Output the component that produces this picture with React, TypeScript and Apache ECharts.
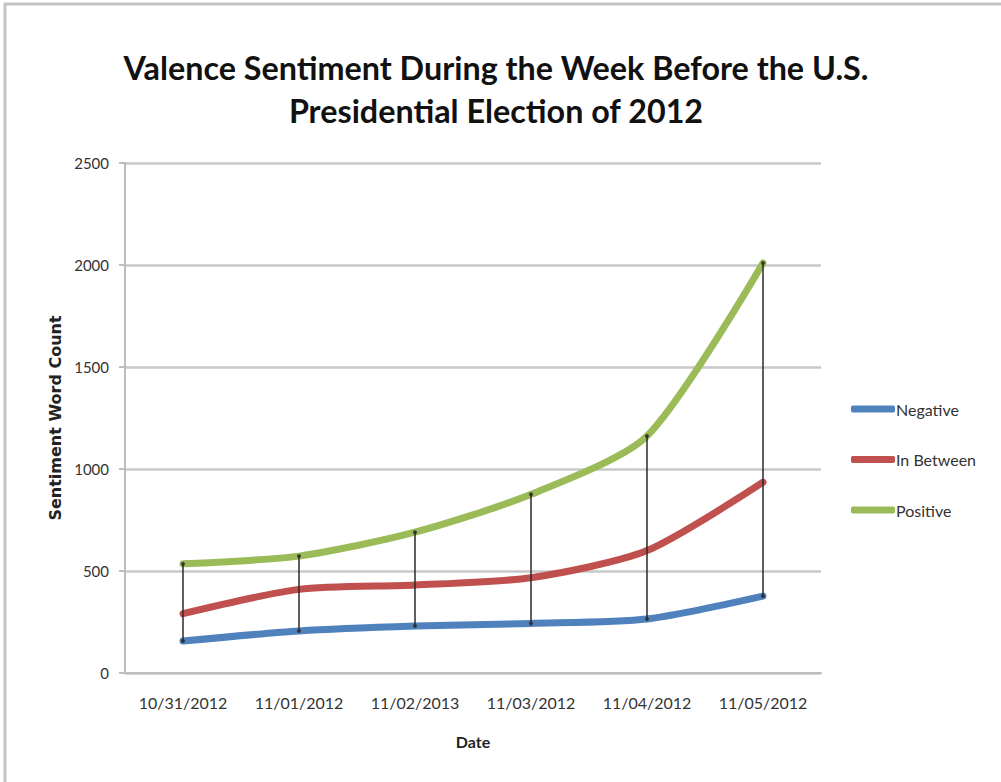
import React, { useEffect, useRef } from "react";
import * as echarts from "echarts";

const categories = ["10/31/2012", "11/01/2012", "11/02/2013", "11/03/2012", "11/04/2012", "11/05/2012"];
const negative = [157, 206, 230, 243, 265, 377];
const inBetween = [291, 410, 431, 467, 600, 935];
const positive = [535, 573, 690, 876, 1162, 2010];
const yTicks = [0, 500, 1000, 1500, 2000, 2500];

const FONT = "Lato, 'Open Sans', sans-serif";

export default function App() {
  const ref = useRef<HTMLDivElement>(null);

  useEffect(() => {
    if (!ref.current) return;
    const chart = echarts.init(ref.current, undefined, { renderer: "svg" });

    // daily spread between the lowest and highest series
    const highLow = categories.map((_, i) => {
      const vals = [negative[i], inBetween[i], positive[i]];
      return [i, Math.min(...vals), Math.max(...vals)];
    });

    const lineSeries = (name: string, data: number[], color: string) => ({
      name,
      type: "line",
      data,
      smooth: 0.25,
      symbol: "none",
      lineStyle: { color, width: 7, cap: "round", join: "round" },
      itemStyle: { color },
      z: 2,
    });

    chart.setOption({
      animation: false,
      backgroundColor: "#ffffff",
      textStyle: { fontFamily: FONT },
      graphic: [
        {
          type: "rect",
          shape: { x: 5, y: 4, width: 1100, height: 900 },
          style: { fill: "none", stroke: "#c4c4c4", lineWidth: 3 },
          silent: true,
        },
      ],
      title: {
        text: "Valence Sentiment During the Week Before the U.S.\nPresidential Election of 2012",
        left: 491,
        top: 41,
        textAlign: "center",
        textStyle: {
          fontFamily: FONT,
          fontWeight: "bold",
          fontSize: 32.3,
          lineHeight: 43,
          color: "#111111",
        },
      },
      legend: {
        orient: "vertical",
        left: 851,
        top: 401,
        padding: 0,
        itemWidth: 44,
        itemHeight: 7,
        itemGap: 34.5,
        icon: "roundRect",
        data: ["Negative", "In Between", "Positive"],
        textStyle: { fontFamily: FONT, fontSize: 16, color: "#333333", padding: [0, 0, 0, -4] },
      },
      grid: { left: 125, right: 180, top: 163, bottom: 109 },
      xAxis: {
        type: "category",
        data: categories,
        name: "Date",
        nameLocation: "middle",
        nameGap: 60,
        nameTextStyle: { fontFamily: FONT, fontWeight: "bold", fontSize: 16, color: "#222222" },
        axisLine: { lineStyle: { color: "#bdbdbd", width: 2 } },
        axisTick: { show: false },
        axisLabel: { fontFamily: FONT, fontSize: 16, color: "#333333", margin: 21 },
      },
      yAxis: {
        type: "value",
        min: yTicks[0],
        max: yTicks[yTicks.length - 1],
        interval: yTicks[1] - yTicks[0],
        name: "Sentiment Word Count",
        nameLocation: "middle",
        nameGap: 61,
        nameTextStyle: { fontFamily: "'DejaVu Sans', sans-serif", fontWeight: "bold", fontSize: 16, color: "#222222" },
        axisLine: { show: true, lineStyle: { color: "#bdbdbd", width: 2 } },
        axisTick: { show: true, length: 6, lineStyle: { color: "#bdbdbd", width: 2 } },
        axisLabel: {
          fontFamily: FONT,
          fontSize: 15,
          color: "#333333",
          margin: 16,
          formatter: (v: number) => String(v),
        },
        splitLine: { lineStyle: { color: "#c8c8c8", width: 2.5 } },
      },
      series: [
        lineSeries("Negative", negative, "#4F81BD"),
        lineSeries("In Between", inBetween, "#C0504D"),
        lineSeries("Positive", positive, "#9BBB59"),
        {
          name: "HighLow",
          type: "custom",
          data: highLow,
          z: 5,
          silent: true,
          renderItem: (params: any, api: any) => {
            const lo = api.coord([api.value(0), api.value(1)]);
            const hi = api.coord([api.value(0), api.value(2)]);
            const style = { fill: "#2a2a2a", opacity: 0.85 };
            return {
              type: "group",
              children: [
                {
                  type: "line",
                  shape: { x1: lo[0], y1: lo[1], x2: hi[0], y2: hi[1] },
                  style: { stroke: "#2a2a2a", lineWidth: 2, opacity: 0.75 },
                },
                { type: "circle", shape: { cx: lo[0], cy: lo[1], r: 2 }, style },
                { type: "circle", shape: { cx: hi[0], cy: hi[1], r: 2 }, style },
              ],
            };
          },
        },
      ],
    });

    return () => chart.dispose();
  }, []);

  return (
    <div
      ref={ref}
      style={{ position: "fixed", left: 0, top: 0, width: 1001, height: 782 }}
    />
  );
}
